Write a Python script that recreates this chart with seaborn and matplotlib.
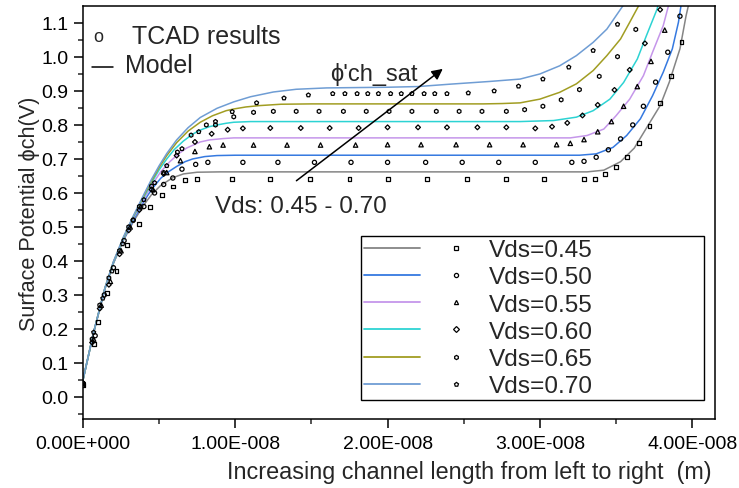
#!/usr/bin/env python3
# Surface potential along the channel: model curves vs TCAD points
import matplotlib
matplotlib.use("Agg")
import matplotlib.pyplot as plt
import seaborn as sns
import pandas as pd
from matplotlib.lines import Line2D
from matplotlib.legend_handler import HandlerTuple

# Data (x in units of 1e-8 m)
vds_labels = ["Vds=0.45", "Vds=0.50", "Vds=0.55", "Vds=0.60", "Vds=0.65", "Vds=0.70"]
line_colors = ["#858585", "#3579e0", "#c596ea", "#2dd3d3", "#a19d22", "#6f9dd4"]
tcad_markers = ["s", "o", "^", "D", "h", "p"]

# model curves
model_x_045 = [0, 0.07, 0.144, 0.2, 0.265, 0.33, 0.40, 0.45, 0.51, 0.59, 0.66, 0.75, 0.9, 1.5, 2.5,
               3.31, 3.42, 3.53, 3.62, 3.70, 3.79, 3.85, 3.92, 3.96, 3.98]
model_y_045 = [0.05, 0.19, 0.318, 0.393, 0.46, 0.515, 0.565, 0.595, 0.622, 0.645, 0.656, 0.661, 0.662, 0.662,
               0.662, 0.662, 0.667, 0.692, 0.732, 0.791, 0.857, 0.926, 1.024, 1.121, 1.16]
model_x_050 = [0, 0.07, 0.144, 0.2, 0.265, 0.33, 0.40, 0.45, 0.51, 0.56, 0.615, 0.67, 0.72, 0.80, 0.88, 1.0, 2.0,
               3.0, 3.26, 3.37, 3.48, 3.57, 3.66, 3.74, 3.81, 3.87, 3.91, 3.93]
model_y_050 = [0.05, 0.19, 0.318, 0.394, 0.462, 0.52, 0.575, 0.61, 0.643, 0.662, 0.678, 0.692, 0.70, 0.707, 0.71,
               0.711, 0.711, 0.711, 0.711, 0.715, 0.734, 0.769, 0.818, 0.886, 0.955, 1.024, 1.102, 1.16]
model_x_055 = [0, 0.07, 0.144, 0.2, 0.265, 0.33, 0.40, 0.45, 0.51, 0.57, 0.63, 0.68, 0.77, 0.83, 0.92, 0.99, 2.0,
               3.0, 3.20, 3.31, 3.42, 3.50, 3.59, 3.68, 3.74, 3.81, 3.85]
model_y_055 = [0.05, 0.19, 0.32, 0.395, 0.464, 0.525, 0.582, 0.622, 0.662, 0.692, 0.716, 0.732, 0.75, 0.756, 0.76,
               0.762, 0.762, 0.762, 0.762, 0.769, 0.788, 0.827, 0.876, 0.945, 1.014, 1.092, 1.16]
model_x_060 = [0, 0.07, 0.144, 0.2, 0.265, 0.33, 0.40, 0.45, 0.50, 0.55, 0.60, 0.66, 0.72, 0.77, 0.83, 0.88, 0.94,
               0.99, 1.1, 1.2, 2.0, 2.87, 3.09, 3.24, 3.35, 3.46, 3.55, 3.64, 3.70, 3.77, 3.78]
model_y_060 = [0.05, 0.19, 0.32, 0.396, 0.466, 0.528, 0.588, 0.63, 0.668, 0.70, 0.728, 0.753, 0.773, 0.785, 0.795,
               0.80, 0.805, 0.808, 0.81, 0.81, 0.81, 0.81, 0.813, 0.823, 0.842, 0.876, 0.925, 0.994, 1.063,
               1.141, 1.16]
model_x_065 = [0, 0.07, 0.144, 0.2, 0.265, 0.33, 0.40, 0.45, 0.50, 0.55, 0.615, 0.69, 0.77, 0.85, 0.94, 0.99,
               1.07, 1.16, 1.3, 1.5, 2.0, 2.63, 2.75, 2.87, 3.00, 3.13, 3.24, 3.35, 3.44, 3.53, 3.59, 3.66]
model_y_065 = [0.05, 0.19, 0.32, 0.397, 0.468, 0.53, 0.592, 0.635, 0.675, 0.71, 0.748, 0.782, 0.808, 0.827, 0.842,
               0.847, 0.853, 0.857, 0.861, 0.862, 0.862, 0.862, 0.863, 0.865, 0.876, 0.896, 0.921, 0.96, 1.004,
               1.053, 1.102, 1.16]
model_x_070 = [0, 0.07, 0.144, 0.2, 0.265, 0.33, 0.40, 0.45, 0.50, 0.55, 0.615, 0.69, 0.77, 0.88, 0.99, 1.10,
               1.25, 1.40, 1.6, 1.8, 2.0, 2.2, 2.41, 2.67, 2.87, 3.00, 3.13, 3.24, 3.35, 3.44, 3.50, 3.56]
model_y_070 = [0.05, 0.19, 0.32, 0.398, 0.47, 0.532, 0.596, 0.64, 0.68, 0.716, 0.756, 0.792, 0.822, 0.849, 0.868,
               0.883, 0.897, 0.905, 0.909, 0.91, 0.911, 0.913, 0.92, 0.928, 0.935, 0.95, 0.974, 1.004, 1.043,
               1.082, 1.121, 1.16]

# TCAD points
tcad_x_045 = [0.0, 0.07, 0.10, 0.16, 0.22, 0.29, 0.37, 0.44, 0.52, 0.59, 0.67, 0.75, 0.98, 1.23, 1.49, 1.75,
              2.00, 2.26, 2.52, 2.78, 3.03, 3.29, 3.36, 3.43, 3.50, 3.57, 3.65, 3.72, 3.79, 3.86, 3.93]
tcad_y_045 = [0.035, 0.155, 0.22, 0.305, 0.37, 0.448, 0.51, 0.558, 0.594, 0.619, 0.638, 0.64, 0.64, 0.64,
              0.64, 0.64, 0.64, 0.64, 0.64, 0.64, 0.64, 0.641, 0.641, 0.657, 0.676, 0.707, 0.747, 0.798,
              0.865, 0.945, 1.043]
tcad_x_050 = [0.0, 0.08, 0.14, 0.20, 0.27, 0.33, 0.40, 0.47, 0.53, 0.59, 0.65, 0.74, 0.82, 1.05, 1.28, 1.52,
              1.76, 2.00, 2.25, 2.49, 2.73, 2.97, 3.21, 3.29, 3.37, 3.45, 3.53, 3.61, 3.68, 3.76, 3.84, 3.92]
tcad_y_050 = [0.04, 0.18, 0.30, 0.38, 0.46, 0.52, 0.56, 0.60, 0.625, 0.644, 0.67, 0.684, 0.69, 0.69, 0.69,
              0.69, 0.69, 0.69, 0.69, 0.69, 0.69, 0.69, 0.69, 0.693, 0.705, 0.727, 0.759, 0.80, 0.855, 0.926,
              1.014, 1.12]
tcad_x_055 = [0.0, 0.07, 0.12, 0.18, 0.25, 0.31, 0.38, 0.46, 0.55, 0.64, 0.735, 0.83, 0.92, 1.12, 1.34, 1.56,
              1.79, 2.00, 2.22, 2.45, 2.67, 2.89, 3.11, 3.20, 3.29, 3.38, 3.47, 3.55, 3.64, 3.73, 3.82]
tcad_y_055 = [0.035, 0.17, 0.27, 0.34, 0.43, 0.50, 0.56, 0.61, 0.66, 0.695, 0.722, 0.736, 0.741, 0.741, 0.741,
              0.741, 0.741, 0.742, 0.742, 0.742, 0.742, 0.742, 0.742, 0.746, 0.757, 0.78, 0.81, 0.855, 0.913,
              0.987, 1.079]
tcad_x_060 = [0.0, 0.06, 0.11, 0.17, 0.24, 0.30, 0.37, 0.45, 0.53, 0.615, 0.735, 0.845, 0.95, 1.05, 1.23, 1.43,
              1.62, 1.81, 2.00, 2.20, 2.39, 2.59, 2.78, 2.97, 3.08, 3.18, 3.28, 3.38, 3.49, 3.59, 3.69, 3.79]
tcad_y_060 = [0.04, 0.16, 0.26, 0.33, 0.42, 0.49, 0.55, 0.61, 0.656, 0.71, 0.75, 0.774, 0.786, 0.79, 0.791,
              0.791, 0.791, 0.791, 0.793, 0.793, 0.793, 0.793, 0.793, 0.79, 0.795, 0.806, 0.828, 0.859, 0.903,
              0.962, 1.04, 1.139]
tcad_x_065 = [0.0, 0.06, 0.11, 0.17, 0.24, 0.30, 0.37, 0.45, 0.53, 0.62, 0.71, 0.81, 0.87, 0.99, 1.12, 1.25,
              1.40, 1.55, 1.71, 1.86, 2.01, 2.16, 2.32, 2.47, 2.62, 2.78, 2.90, 3.02, 3.14, 3.26, 3.39, 3.51, 3.63]
tcad_y_065 = [0.04, 0.17, 0.27, 0.35, 0.43, 0.50, 0.56, 0.62, 0.66, 0.72, 0.77, 0.80, 0.80, 0.824, 0.837, 0.84,
              0.84, 0.84, 0.84, 0.84, 0.84, 0.84, 0.84, 0.84, 0.84, 0.84, 0.845, 0.855, 0.874, 0.904, 0.943,
              1.001, 1.081]
tcad_x_070 = [0.0, 0.07, 0.13, 0.19, 0.26, 0.33, 0.40, 0.47, 0.55, 0.65, 0.76, 0.87, 0.98, 1.14, 1.32, 1.48,
              1.64, 1.72, 1.80, 1.87, 1.94, 2.02, 2.09, 2.16, 2.24, 2.31, 2.39, 2.53, 2.70, 2.86, 3.02, 3.19,
              3.35, 3.51]
tcad_y_070 = [0.04, 0.19, 0.29, 0.37, 0.45, 0.52, 0.58, 0.63, 0.68, 0.73, 0.78, 0.81, 0.839, 0.865, 0.879,
              0.888, 0.892, 0.892, 0.892, 0.892, 0.892, 0.892, 0.892, 0.892, 0.892, 0.892, 0.892, 0.894, 0.90,
              0.914, 0.935, 0.97, 1.019, 1.096]

x_tick_pos = [0, 1, 2, 3, 4]
x_tick_labels = ["0.00E+000", "1.00E-008", "2.00E-008", "3.00E-008", "4.00E-008"]
y_tick_pos = [0.0, 0.1, 0.2, 0.3, 0.4, 0.5, 0.6, 0.7, 0.8, 0.9, 1.0, 1.1]

model_x = [model_x_045, model_x_050, model_x_055, model_x_060, model_x_065, model_x_070]
model_y = [model_y_045, model_y_050, model_y_055, model_y_060, model_y_065, model_y_070]
tcad_x = [tcad_x_045, tcad_x_050, tcad_x_055, tcad_x_060, tcad_x_065, tcad_x_070]
tcad_y = [tcad_y_045, tcad_y_050, tcad_y_055, tcad_y_060, tcad_y_065, tcad_y_070]


def main():
    sns.set_style("ticks")
    plt.rcParams["font.family"] = ["Liberation Sans", "DejaVu Sans"]

    fig = plt.figure(figsize=(7.39, 4.89), dpi=100)
    ax = fig.add_axes([0.1123, 0.1411, 0.8552, 0.8446])

    model_df = pd.concat([
        pd.DataFrame({"x": mx, "y": my, "Vds": lab})
        for mx, my, lab in zip(model_x, model_y, vds_labels)
    ])

    # model lines
    sns.lineplot(data=model_df, x="x", y="y", hue="Vds", palette=line_colors,
                 estimator=None, sort=False, linewidth=1.1, legend=False, ax=ax)

    # TCAD points (hollow black markers)
    marker_area = {"s": 8, "o": 9, "^": 10, "D": 6, "h": 9, "p": 9}
    for tx, ty, mk in zip(tcad_x, tcad_y, tcad_markers):
        sns.scatterplot(x=tx, y=ty, marker=mk, s=marker_area[mk], facecolor="none",
                        edgecolor="black", linewidth=0.9, ax=ax, zorder=3)

    ax.set_xlim(0, 4.15)
    ax.set_ylim(-0.065, 1.15)
    ax.set_xticks(x_tick_pos)
    ax.set_xticklabels(x_tick_labels)
    ax.set_xticks([0.5, 1.5, 2.5, 3.5], minor=True)
    ax.set_yticks(y_tick_pos)
    ax.set_yticklabels([f"{v:.1f}" for v in y_tick_pos])
    ax.set_yticks([-0.05 + 0.1 * i for i in range(12)], minor=True)
    ax.tick_params(axis="both", which="major", direction="out", length=6.5, width=1.1,
                   labelsize=14, colors="black")
    ax.tick_params(axis="y", which="major", pad=4)
    ax.tick_params(axis="x", which="major", pad=5)
    ax.tick_params(axis="both", which="minor", direction="out", length=3.5, width=1.1)
    for sp in ax.spines.values():
        sp.set_visible(True)
        sp.set_color("black")
        sp.set_linewidth(1.1)

    ax.set_xlabel("Increasing channel length from left to right  (m)", fontsize=16.8, labelpad=6)
    # label sits right of centre in the original
    ax.xaxis.label.set_x(0.612)
    ax.set_ylabel("Surface Potential ϕch(V)", fontsize=15.6, labelpad=0.5)

    # top-left key
    ax.text(0.016, 0.925, "o", transform=ax.transAxes, fontsize=13, va="center")
    ax.text(0.078, 0.927, "TCAD results", transform=ax.transAxes, fontsize=18, va="center")
    ax.plot([0.014, 0.048], [0.852, 0.852], transform=ax.transAxes, color="black", linewidth=1.1)
    ax.text(0.066, 0.857, "Model", transform=ax.transAxes, fontsize=18, va="center")

    # annotations
    ax.annotate("", xy=(2.377, 0.97), xytext=(1.387, 0.631),
                arrowprops=dict(arrowstyle="-|>", color="black", lw=1.1, mutation_scale=16))
    ax.text(1.62, 0.95, "ϕ'ch_sat", fontsize=17, va="center", ha="left")
    ax.text(0.867, 0.563, "Vds: 0.45 - 0.70", fontsize=17.5, va="center", ha="left")

    # legend: model line + TCAD marker per Vds
    handles = []
    for col, mk in zip(line_colors, tcad_markers):
        ln = Line2D([], [], color=col, linewidth=1.3)
        pt = Line2D([], [], linestyle="none", marker=mk, markersize=3.0,
                    markerfacecolor="none", markeredgecolor="black", markeredgewidth=0.9)
        handles.append((ln, pt))
    leg = ax.legend(handles, vds_labels, handler_map={tuple: HandlerTuple(ndivide=2, pad=0.29)},
                    loc="upper left", bbox_to_anchor=(0.44, 0.443, 0.543, 0.0), mode="expand",
                    fontsize=17.6, handlelength=4.9, handletextpad=0.2, labelspacing=0.21,
                    borderpad=0.12, frameon=True, fancybox=False, borderaxespad=0)
    leg.get_frame().set_edgecolor("black")
    leg.get_frame().set_linewidth(1.0)
    leg.get_frame().set_alpha(1)

    fig.savefig("out.png", dpi=100)


if __name__ == "__main__":
    main()
